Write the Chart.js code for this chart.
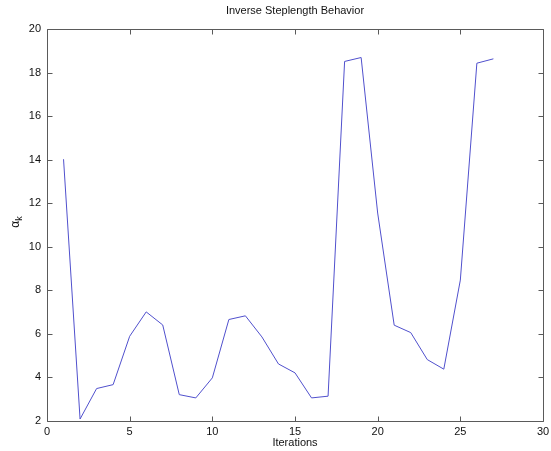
<!DOCTYPE html>
<html>
<head>
<meta charset="utf-8">
<script src="https://cdn.jsdelivr.net/npm/chart.js@4/dist/chart.umd.min.js"></script>
<style>
html,body{margin:0;padding:0;background:#fff;}
#wrap{width:551px;height:451px;}
</style>
</head>
<body>
<div id="wrap"><canvas id="c" width="551" height="451"></canvas></div>
<script>
const iterations = [1,2,3,4,5,6,7,8,9,10,11,12,13,14,15,16,17,18,19,20,21,22,23,24,25,26,27];
const alphaK = [14.02,2.09,3.49,3.67,5.89,7.01,6.41,3.21,3.06,3.98,6.66,6.83,5.86,4.62,4.21,3.06,3.14,18.51,18.69,11.55,6.40,6.06,4.82,4.38,8.47,18.43,18.63];
const xTicks = [0,5,10,15,20,25,30];
const yTicks = [2,4,6,8,10,12,14,16,18,20];
const titleText = 'Inverse Steplength Behavior';
const xLabel = 'Iterations';

const FONT = 'Liberation Sans, Arial, Helvetica, sans-serif';
const AX = '#5a5a5a';

const boxPlugin = {
  id: 'box',
  afterDraw(chart) {
    const ctx = chart.ctx;
    const a = chart.chartArea;
    const xs = chart.scales.x, ys = chart.scales.y;
    ctx.save();
    ctx.strokeStyle = AX;
    ctx.lineWidth = 1;
    ctx.beginPath();
    const L = Math.round(a.left)+0.5, R = Math.round(a.right)+0.5, T = Math.round(a.top)+0.5, B = Math.round(a.bottom)+0.5;
    ctx.rect(L, T, R-L, B-T);
    const tl = 5;
    xTicks.forEach(v => {
      const p = Math.round(xs.getPixelForValue(v))+0.5;
      ctx.moveTo(p, B); ctx.lineTo(p, B-tl);
      ctx.moveTo(p, T); ctx.lineTo(p, T+tl);
    });
    yTicks.forEach(v => {
      const p = Math.round(ys.getPixelForValue(v))+0.5;
      ctx.moveTo(L, p); ctx.lineTo(L+tl, p);
      ctx.moveTo(R, p); ctx.lineTo(R-tl, p);
    });
    ctx.stroke();
    // title
    ctx.fillStyle = '#111';
    ctx.font = '11px ' + FONT;
    ctx.textAlign = 'center';
    ctx.textBaseline = 'middle';
    ctx.fillText(titleText, (a.left+a.right)/2, 11);
    // x label
    ctx.fillText(xLabel, (a.left+a.right)/2, 443);
    // y label alpha_k rotated
    ctx.translate(16, 222);
    ctx.rotate(-Math.PI/2);
    ctx.textAlign = 'left';
    ctx.font = '12px ' + FONT;
    const wA = ctx.measureText('α').width;
    ctx.font = '9px ' + FONT;
    const wK = ctx.measureText('k').width;
    const start = -(wA + wK)/2;
    ctx.font = '12px ' + FONT;
    ctx.fillText('α', start, 0);
    ctx.font = '9px ' + FONT;
    ctx.fillText('k', start + wA, 4);
    ctx.restore();
  }
};

new Chart(document.getElementById('c'), {
  type: 'line',
  data: {
    datasets: [{
      data: iterations.map((x, i) => ({x: x, y: alphaK[i]})),
      borderColor: 'rgb(80,80,205)',
      borderWidth: 1,
      pointRadius: 0,
      tension: 0,
      fill: false
    }]
  },
  options: {
    responsive: false,
    animation: false,
    events: [],
    layout: { padding: { left: 0, top: 29, right: 8, bottom: 0 } },
    plugins: { legend: { display: false }, title: { display: false }, tooltip: { enabled: false } },
    scales: {
      x: {
        type: 'linear', min: 0, max: 30,
        afterBuildTicks(s) { s.ticks = xTicks.map(v => ({value: v})); },
        afterFit(s) { s.height = 30; s.paddingLeft = 0; s.paddingRight = 0; },
        grid: { display: false, drawTicks: false },
        border: { display: false },
        ticks: { color: '#111', font: { family: FONT, size: 11 }, padding: 4, maxRotation: 0, autoSkip: false }
      },
      y: {
        type: 'linear', min: 2, max: 20,
        afterBuildTicks(s) { s.ticks = yTicks.map(v => ({value: v})); },
        afterFit(s) { s.width = 47; s.paddingTop = 0; s.paddingBottom = 0; },
        grid: { display: false, drawTicks: false },
        border: { display: false },
        ticks: { color: '#111', font: { family: FONT, size: 11 }, padding: 6, autoSkip: false }
      }
    }
  },
  plugins: [boxPlugin]
});
</script>
</body>
</html>
